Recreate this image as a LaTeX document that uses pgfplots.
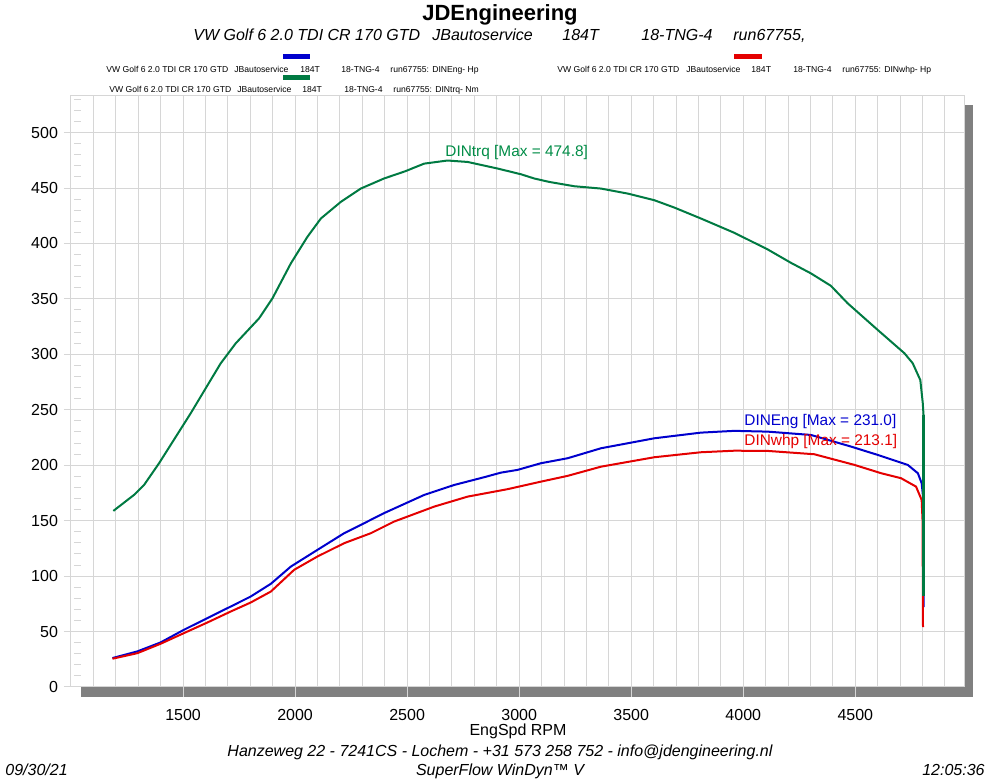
\documentclass[border=0pt]{standalone}
\usepackage{fontspec}
\setmainfont{Liberation Sans}
\usepackage{pgfplots}
\pgfplotsset{compat=1.18}
\definecolor{gridc}{RGB}{214,214,214}
\definecolor{shad}{RGB}{128,128,128}
\definecolor{cblue}{RGB}{0,0,205}
\definecolor{cred}{RGB}{228,0,0}
\definecolor{cgreen}{RGB}{0,122,66}
\definecolor{tgreen}{RGB}{0,140,70}
\newcommand{\lgf}{\fontsize{4.3}{5}\selectfont}
\newcommand{\stf}{\fontsize{8}{9}\selectfont\itshape}
\begin{document}
\begin{tikzpicture}
\begin{scope}[x=0.5pt,y=-0.5pt,shift={(-71,-687)}]
\path[use as bounding box] (0,0) rectangle (1000,780);
\fill[shad] (964,105) rectangle (973,697);
\fill[shad] (81,687.5) rectangle (973,697);
\end{scope}
\begin{axis}[at={(0,0)},anchor=south west,scale only axis,
  width=446.5pt,height=295.5pt,
  xmin=1000,xmax=4985,ymin=0,ymax=533,
  axis line style={draw=gridc,line width=0.5pt},
  xtick={1500,2000,...,4500},
  minor xtick={1100,1200,...,4900},
  ytick={0,50,...,500},
  minor ytick={10,20,...,530},
  xtick pos=bottom, ytick pos=left,
  xmajorgrids=true,xminorgrids=true,ymajorgrids=true,
  grid style={gridc,line width=0.5pt},
  minor grid style={gridc,line width=0.5pt},
  tick align=outside,
  major tick length=5pt,
  minor tick length=3.5pt,
  x tick style={gridc,line width=0.5pt},
  minor x tick style={draw=none},
  y tick style={gridc,line width=0.5pt,xshift=1.5pt},
  minor y tick style={gridc,line width=0.5pt,xshift=3.5pt},
  tick label style={font=\fontsize{8}{9}\selectfont},
  /pgf/number format/assume math mode=true,
  /pgf/number format/1000 sep={},
  xticklabel style={yshift=-2.5pt},
  yticklabel style={xshift=2pt},
  clip=false,
]
\addplot[cblue,line width=1pt] coordinates {
(1185,26.1)(1296,32.1)(1400,40.2)(1504,51.6)(1609,62.2)(1713,72.6)(1802,81.6)
(1892,93.1)(1981,108.6)(2100,123.7)(2219,138.7)(2308,147.7)(2397,156.8)
(2576,173.2)(2710,182.2)(2844,189.2)(2918,193.3)(2993,195.8)(3097,201.8)
(3216,206.3)(3365,215.3)(3603,224.3)(3811,229.4)(3960,231.0)(4109,230.3)
(4302,227.3)(4481,216.8)(4600,209.3)(4734,200.3)(4779,192.8)(4796,183.8)
(4803,170)(4805,72)};
\addplot[cred,line width=1pt] coordinates {
(1185,25.5)(1296,30.5)(1400,39.0)(1504,48.6)(1609,58.2)(1713,68.1)(1802,76.2)
(1892,86.1)(1996,105.7)(2100,117.7)(2219,129.7)(2338,138.7)(2442,149.2)
(2621,162.7)(2770,171.7)(2948,178.4)(3097,185.2)(3216,190.4)(3365,198.7)
(3603,207.2)(3811,211.7)(3960,213.1)(4109,212.9)(4317,209.9)(4496,200.3)
(4615,192.8)(4704,188.3)(4771,180.7)(4796,168.7)(4800,150)(4802,54)};
\addplot[cgreen,line width=1pt] coordinates {
(1189,158.8)(1281,173.2)(1326,182.2)(1393,201.8)(1534,246.8)(1668,291.9)
(1735,309.9)(1839,332.4)(1899,350.5)(1981,382.0)(2055,406.0)(2115,422.5)
(2204,437.5)(2293,449.5)(2397,458.6)(2490,465.0)(2576,472.0)(2680,474.8)
(2770,473.5)(2903,467.6)(3008,462.4)(3067,458.6)(3134,455.5)(3246,451.6)
(3365,449.5)(3484,445.0)(3603,439.0)(3692,432.4)(3811,422.5)(3960,409.6)
(4109,394.6)(4213,382.5)(4302,373.0)(4391,361.8)(4466,346.0)(4600,322.0)
(4719,301.0)(4756,292.0)(4790,276.8)(4801,256.0)(4806,240.0)};
\addplot[cgreen,line width=1.5pt] coordinates {(4806,245)(4806,82)};
\end{axis}
\begin{scope}[x=0.5pt,y=-0.5pt,shift={(-71,-687)}]
\node[anchor=base,font=\fontsize{11}{12}\selectfont\bfseries,inner sep=0] at (500,21) {JDEngineering};
\node[anchor=base west,inner sep=0,font=\stf] at (193,41) {VW Golf 6 2.0 TDI CR 170 GTD};
\node[anchor=base west,inner sep=0,font=\stf] at (432,41) {JBautoservice};
\node[anchor=base west,inner sep=0,font=\stf] at (562,41) {184T};
\node[anchor=base west,inner sep=0,font=\stf] at (641,41) {18-TNG-4};
\node[anchor=base west,inner sep=0,font=\stf] at (733,41) {run67755,};
% legend
\draw[cblue,line width=2.5pt] (283,57) -- (310,57);
\draw[cred,line width=2.5pt] (734,57) -- (762,57);
\draw[cgreen,line width=2.5pt] (283,78) -- (310,78);
\foreach \x/\t in {106/{VW Golf 6 2.0 TDI CR 170 GTD},234/JBautoservice,300/184T,341/18-TNG-4,390/{run67755: DINEng- Hp}}
  \node[anchor=base west,inner sep=0,font=\lgf] at (\x,73) {\t};
\foreach \x/\t in {557/{VW Golf 6 2.0 TDI CR 170 GTD},686/JBautoservice,751/184T,793/18-TNG-4,842/{run67755: DINwhp- Hp}}
  \node[anchor=base west,inner sep=0,font=\lgf] at (\x,73) {\t};
\foreach \x/\t in {109/{VW Golf 6 2.0 TDI CR 170 GTD},237/JBautoservice,302/184T,344/18-TNG-4,393/{run67755: DINtrq- Nm}}
  \node[anchor=base west,inner sep=0,font=\lgf] at (\x,93) {\t};
% annotations
\node[anchor=base west,inner sep=0,font=\fontsize{7.7}{9}\selectfont,text=tgreen] at (445,157) {DINtrq [Max = 474.8]};
\node[anchor=base west,inner sep=0,font=\fontsize{7.7}{9}\selectfont,text=cblue] at (744,426) {DINEng [Max = 231.0]};
\node[anchor=base west,inner sep=0,font=\fontsize{7.7}{9}\selectfont,text=cred] at (744,446) {DINwhp [Max = 213.1]};
% axis label and footer
\node[anchor=base,inner sep=0,font=\fontsize{8}{9}\selectfont] at (518,736) {EngSpd  RPM};
\node[anchor=base,inner sep=0,font=\stf] at (500,757) {Hanzeweg 22 - 7241CS - Lochem - +31 573 258 752 - info@jdengineering.nl};
\node[anchor=base west,inner sep=0,font=\stf] at (5,776) {09/30/21};
\node[anchor=base,inner sep=0,font=\stf] at (500,776) {SuperFlow WinDyn™ V};
\node[anchor=base east,inner sep=0,font=\stf] at (985,776) {12:05:36};
\end{scope}
\end{tikzpicture}
\end{document}
